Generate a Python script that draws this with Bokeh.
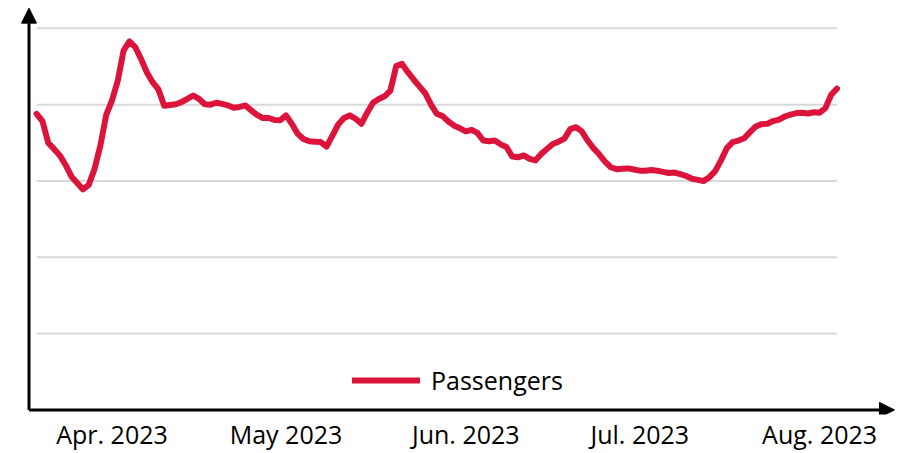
import pandas as pd
from bokeh.plotting import figure
from bokeh.models import Range1d, Arrow, NormalHead, FixedTicker
from bokeh.embed import file_html
from bokeh.resources import INLINE

# ---------------- data ----------------
start_date = "2023-03-19"
passengers = [
    77.6, 75.7, 70.0, 68.4, 66.7, 64.2, 61.2, 59.5, 57.8, 59.0,
    63.2, 69.3, 77.3, 81.1, 86.3, 94.2, 96.6, 95.1, 92.0, 88.5,
    85.9, 84.0, 79.7, 79.9, 80.1, 80.7, 81.5, 82.4, 81.5, 80.1,
    80.0, 80.5, 80.2, 79.8, 79.2, 79.4, 79.8, 78.5, 77.3, 76.5,
    76.5, 76.0, 75.9, 77.2, 75.0, 72.4, 71.0, 70.4, 70.3, 70.2,
    69.0, 71.9, 74.8, 76.5, 77.2, 76.3, 75.0, 77.9, 80.5, 81.5,
    82.2, 83.7, 90.1, 90.7, 88.5, 86.6, 84.8, 83.0, 80.0, 77.6,
    77.0, 75.6, 74.5, 73.8, 73.0, 73.4, 72.6, 70.6, 70.4, 70.6,
    69.6, 68.9, 66.4, 66.2, 66.7, 65.8, 65.4, 67.1, 68.4, 69.7,
    70.3, 71.1, 73.6, 74.1, 73.0, 70.6, 68.6, 67.0, 65.1, 63.6,
    63.1, 63.2, 63.3, 63.0, 62.7, 62.7, 62.9, 62.7, 62.4, 62.1,
    62.2, 61.8, 61.3, 60.6, 60.3, 60.0, 61.0, 62.6, 65.4, 68.6,
    70.2, 70.6, 71.2, 72.8, 74.3, 74.9, 75.0, 75.7, 76.1, 76.9,
    77.4, 77.8, 77.9, 77.7, 78.0, 77.9, 79.1, 82.6, 84.2,
]
tick_dates = ["2023-04-01", "2023-05-01", "2023-06-01", "2023-07-01", "2023-08-01"]
tick_labels = ["Apr. 2023", "May 2023", "Jun. 2023", "Jul. 2023", "Aug. 2023"]
grid_values = [20, 40, 60, 80, 100]
series_name = "Passengers"

# ---------------- build ----------------
dates = pd.date_range(start_date, periods=len(passengers), freq="D")
ref = pd.Timestamp(tick_dates[0])
day = pd.Timedelta(days=1)

x_start = ref - 19.224 * day
x_end = ref + 135.431 * day
y_start, y_end = -1.2, 107.3

FONT = "Open Sans"
RED = "#DC143C"

p = figure(
    width=897, height=453,
    x_axis_type="datetime",
    x_range=Range1d(x_start, x_end),
    y_range=Range1d(y_start, y_end),
    output_backend="svg",
    toolbar_location=None,
    min_border_left=0, min_border_right=0, min_border_top=0,
    min_border_bottom=33,
)
p.outline_line_color = None
p.xgrid.visible = False
p.ygrid.visible = False
p.yaxis.visible = False

# grid lines spanning the data extent
n = len(grid_values)
p.segment(x0=[dates[0]] * n, y0=grid_values, x1=[dates[-1]] * n, y1=grid_values,
          line_color="#d9d9d9", line_width=2)

p.line(dates, passengers, line_color=RED, line_width=6,
       line_join="round", line_cap="round", legend_label=series_name)

# axes with arrow heads
axis_x = ref - 14.31 * day
p.add_layout(Arrow(end=NormalHead(size=15, fill_color="black", line_color="black"),
                   x_start=axis_x, y_start=0, x_end=ref + 134.91 * day, y_end=0,
                   line_color="black", line_width=3))
p.add_layout(Arrow(end=NormalHead(size=15, fill_color="black", line_color="black"),
                   x_start=axis_x, y_start=0, x_end=axis_x, y_end=105.3,
                   line_color="black", line_width=3))

# x axis labels
tick_ms = [int(pd.Timestamp(t).value // 10**6) for t in tick_dates]
xa = p.xaxis[0]
xa.ticker = FixedTicker(ticks=tick_ms)
xa.major_label_overrides = {t: l for t, l in zip(tick_ms, tick_labels)}
xa.axis_line_color = None
xa.major_tick_line_color = None
xa.minor_tick_line_color = None
xa.major_tick_out = 0
xa.minor_tick_out = 0
xa.major_label_standoff = 2
xa.major_label_text_font = FONT
xa.major_label_text_font_size = "25px"
xa.major_label_text_color = "black"

lg = p.legend[0]
lg.location = (352, 17)
lg.padding = 0
lg.margin = 0
lg.border_line_color = None
lg.background_fill_alpha = 0
lg.glyph_width = 68
lg.glyph_height = 34
lg.label_height = 34
lg.label_standoff = 11
lg.label_text_font = FONT
lg.label_text_font_size = "25px"
lg.label_text_color = "black"

open("out.html", "w").write(file_html(p, INLINE))
